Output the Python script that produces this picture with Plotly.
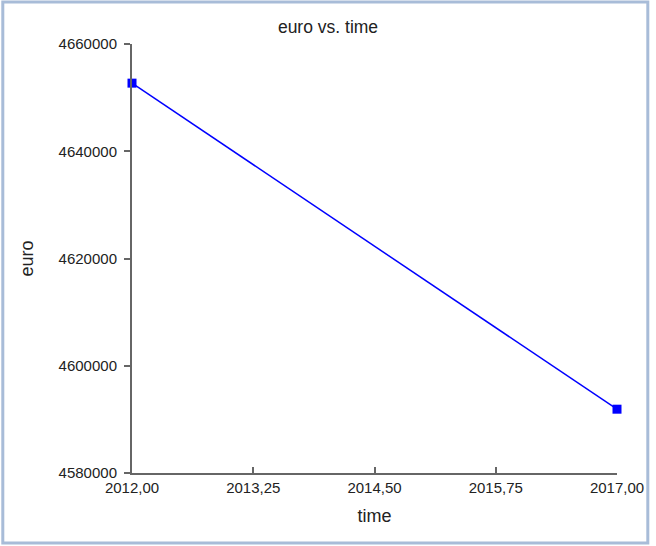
import plotly.graph_objects as go

time = [2012.00, 2017.00]
euro = [4652700, 4591900]
x_tickvals = [2012.00, 2013.25, 2014.50, 2015.75, 2017.00]
x_ticktext = ["2012,00", "2013,25", "2014,50", "2015,75", "2017,00"]
y_tickvals = [4580000, 4600000, 4620000, 4640000, 4660000]
y_ticktext = ["4580000", "4600000", "4620000", "4640000", "4660000"]

W, H = 656, 546
ml, mr, mt, mb = 132, 36, 44, 73
pw, ph = W - ml - mr, H - mt - mb

def px(x):
    return (x - ml) / pw

def py(y):
    return (H - mb - y) / ph

fig = go.Figure()
fig.add_trace(go.Scatter(
    x=time, y=euro, mode="lines+markers",
    line=dict(color="#0000ff", width=1.5),
    marker=dict(symbol="square", size=9, color="#0000ff"),
    cliponaxis=False, showlegend=False,
))

font = dict(family="Liberation Sans, Arial, sans-serif", size=15, color="#222222")
fig.update_layout(
    width=W, height=H,
    margin=dict(l=ml, r=mr, t=mt, b=mb),
    paper_bgcolor="white", plot_bgcolor="white",
    font=font,
    title=dict(text="euro vs. time", x=px(376), xanchor="center", y=1 - 27 / H, yanchor="middle",
               font=dict(family="Liberation Sans, Arial, sans-serif", size=17.5, color="#222222")),
    xaxis=dict(range=[2012, 2017], tickvals=x_tickvals, ticktext=x_ticktext,
               showgrid=False, zeroline=False, showline=True, linecolor="#666666", linewidth=2,
               ticks="inside", ticklen=6, tickcolor="#666666", tickwidth=1.5,
               title=dict(text="time", standoff=14), tickfont=font),
    yaxis=dict(range=[4580000, 4660000], tickvals=y_tickvals, ticktext=y_ticktext,
               showgrid=False, zeroline=False, showline=True, linecolor="#666666", linewidth=2,
               ticks="outside", ticklen=6, tickcolor="#666666", tickwidth=1.5,
               ticklabelstandoff=4,
               title=dict(text="euro", standoff=20), tickfont=font),
    shapes=[dict(type="rect", xref="paper", yref="paper",
                 x0=px(2), x1=px(651), y0=py(543), y1=py(2),
                 line=dict(color="#a8bcd8", width=3), fillcolor="rgba(0,0,0,0)", layer="below")],
)
fig.write_html("out.html", config={"displayModeBar": False},
               post_script="document.body.style.margin='0';document.body.style.padding='0';document.body.style.overflow='hidden';")
